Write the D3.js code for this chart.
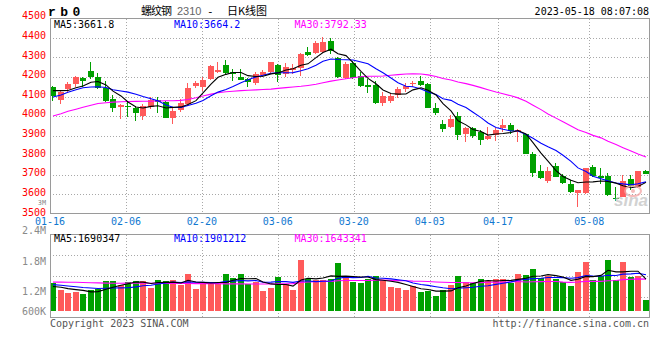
<!DOCTYPE html>
<html><head><meta charset="utf-8">
<script src="https://cdn.jsdelivr.net/npm/d3@7"></script>
<style>
html,body{margin:0;padding:0;background:#fff;}
svg{display:block;}
text{font-family:"DejaVu Sans Mono",monospace;font-size:10px;}
</style></head><body>
<svg id="c" width="660" height="360"></svg>
<script>
const dates = ["01-16","01-17","01-18","01-19","01-20","01-30","01-31","02-01","02-02","02-03",
"02-06","02-07","02-08","02-09","02-10","02-13","02-14","02-15","02-16","02-17",
"02-20","02-21","02-22","02-23","02-24","02-27","02-28","03-01","03-02","03-03",
"03-06","03-07","03-08","03-09","03-10","03-13","03-14","03-15","03-16","03-17",
"03-20","03-21","03-22","03-23","03-24","03-27","03-28","03-29","03-30","03-31",
"04-03","04-04","04-06","04-07","04-10","04-11","04-12","04-13","04-14","04-17",
"04-18","04-19","04-20","04-21","04-24","04-25","04-26","04-27","04-28","05-04",
"05-05","05-08","05-09","05-10","05-11","05-12","05-15","05-16","05-17","05-18"];
const open = [4150,4084,4137,4162,4196,4232,4202,4146,4088,4045,
4052,4040,4002,4048,4082,4074,3988,4031,4060,4153,
4148,4190,4224,4259,4228,4202,4190,4170,4208,4225,
4259,4213,4238,4244,4326,4324,4326,4383,4296,4197,
4272,4203,4161,4161,4067,4076,4110,4136,4166,4178,
4162,4043,3961,3944,3998,3906,3940,3918,3880,3905,
3940,3952,3918,3906,3807,3716,3667,3742,3691,3650,
3607,3605,3739,3694,3692,3580,3585,3679,3636,3716];
const high = [4152,4134,4176,4203,4198,4275,4218,4178,4108,4063,
4078,4050,4063,4100,4095,4076,4045,4088,4169,4180,
4200,4259,4279,4288,4243,4243,4196,4225,4238,4279,
4269,4272,4269,4322,4353,4385,4403,4401,4300,4279,
4284,4225,4192,4180,4121,4118,4148,4168,4180,4203,
4169,4068,3978,4004,4021,3944,3944,3930,3944,3939,
3983,3964,3935,3910,3816,3747,3739,3759,3704,3674,
3622,3733,3747,3733,3708,3636,3699,3699,3716,3721];
const low = [4077,4060,4125,4151,4149,4188,4136,4073,4023,3987,
3997,3973,3978,4036,4015,3988,3957,4022,4051,4145,
4128,4187,4220,4214,4182,4184,4148,4160,4198,4216,
4172,4199,4216,4203,4308,4320,4322,4317,4194,4191,
4189,4147,4117,4060,4049,4068,4090,4121,4149,4152,
4042,4007,3918,3940,3875,3867,3887,3850,3875,3870,
3918,3910,3867,3804,3687,3679,3658,3687,3653,3605,
3534,3602,3687,3653,3588,3564,3585,3622,3633,3701];
const close = [4105,4121,4166,4200,4178,4199,4143,4078,4040,4054,
4045,4014,4052,4082,4070,3988,4028,4065,4145,4168,
4187,4254,4238,4221,4216,4187,4173,4216,4228,4276,
4212,4249,4245,4320,4312,4372,4377,4332,4202,4266,
4194,4153,4148,4066,4105,4105,4136,4153,4171,4157,
4042,4015,3932,3986,3901,3939,3896,3879,3896,3927,
3952,3922,3930,3807,3708,3682,3716,3687,3657,3610,
3619,3733,3691,3682,3597,3576,3665,3640,3716,3701];
const ma5 = [4130,4130,4131,4145,4154,4172.8,4177.2,4159.6,4127.6,4102.8,
4072,4046.2,4041,4049.4,4052.6,4041.2,4044,4046.6,4059.2,4078.8,
4118.6,4163.8,4198.4,4213.6,4223.2,4223.2,4207,4202.6,4204,4216,
4221,4236.2,4242,4260.4,4267.6,4299.6,4325.2,4342.6,4319,4309.8,
4274.2,4229.4,4192.6,4165.4,4133.2,4115.4,4112,4113,4134,4144.4,
4131.8,4107.6,4063.4,4026.4,3975.2,3954.6,3930.8,3920.2,3902.2,3907.4,
3910,3915.2,3925.4,3907.6,3863.8,3809.8,3768.6,3720,3690,3670.4,
3657.8,3661.2,3662,3667,3664.4,3655.8,3642.2,3632,3638.8,3659.6];
const ma10 = [4097,4108,4122,4135,4145,4149,4150,4146,4135,4128.4,
4122.4,4111.7,4100.3,4088.5,4077.7,4056.6,4045.1,4043.8,4054.3,4065.7,
4079.9,4103.9,4122.5,4136.4,4151,4170.9,4185.4,4200.5,4208.8,4219.6,
4222.1,4221.6,4222.3,4232.2,4241.8,4260.3,4280.7,4292.3,4289.7,4288.7,
4286.9,4277.3,4267.6,4242.2,4221.5,4194.8,4170.7,4152.8,4149.7,4138.8,
4123.6,4109.8,4088.2,4080.2,4059.8,4043.2,4019.2,3991.8,3964.3,3941.3,
3932.3,3923,3922.8,3904.9,3885.6,3859.9,3841.9,3822.7,3798.8,3767.1,
3733.8,3714.9,3691,3678.5,3667.4,3656.8,3651.7,3647,3652.9,3662];
const ma30 = [4000,4012,4024,4035,4045,4055,4064,4068,4071,4073,
4074,4075,4076,4076,4077,4078,4078,4080,4085,4094,
4103,4112,4119,4124,4127,4130,4132,4134,4136,4137.9,
4141.5,4145.7,4148.4,4152.4,4156.8,4162.6,4170.4,4178.9,4184.3,4191.3,
4196.3,4200.9,4204.1,4203.6,4204.8,4208.7,4212.3,4215.2,4216.1,4215.7,
4210.9,4202.9,4192.7,4184.9,4174.4,4166.1,4156.9,4145.6,4134.6,4122.9,
4114.3,4103.4,4092.9,4075.8,4055.6,4032.6,4010.6,3989.1,3970.9,3949.1,
3929.9,3915.9,3900.7,3887.9,3870.9,3853.3,3837.6,3820.5,3805.3,3790.1];
// volume in units of 10,000
const volume = [147,109,95,100,88,109,114,156,156,137,
151,156,156,120,161,156,161,134,192,114,
147,146,146,192,172,192,140,152,104,120,
177,140,109,265,166,161,161,166,251,173,
152,147,166,182,156,125,120,109,130,99,
104,78,109,135,182,151,144,166,156,166,
166,146,192,187,218,172,182,166,151,130,
203,255,161,182,265,161,255,177,182,57];
const vma5 = [128,124,117,112,107.8,100.2,101.2,113.4,124.6,134.4,
142.8,151.2,151.2,144,148.8,149.8,150.8,146.4,160.8,151.4,
149.6,146.6,149,149,160.6,169.6,168.4,169.6,152,141.6,
138.6,138.6,130,162.2,171.4,168.2,172.4,183.8,181,182.4,
180.6,177.8,177.8,164,160.6,155.2,149.8,138.4,128,116.6,
112.4,104,104,105,121.6,131,144.2,155.6,159.8,156.6,
159.6,160,165.2,171.4,181.8,183,190.2,185,177.8,160.2,
166.4,181,180,186.2,213.2,204.8,204.8,208,208,166.4];
const vma10 = [138,135,131,127,123,120,118,119,120,121.1,
121.5,126.2,132.3,134.3,141.6,146.3,151,148.8,152.4,150.1,
149.7,148.7,147.7,154.9,156,159.6,157.5,159.3,150.5,151.1,
154.1,153.5,149.8,157.1,156.5,153.4,155.5,156.9,171.6,176.9,
174.4,175.1,180.8,172.5,171.5,167.9,163.8,158.1,146,138.6,
133.8,126.9,121.2,116.5,119.1,121.7,124.1,129.8,132.4,139.1,
145.3,152.1,160.4,165.6,169.2,171.3,175.1,175.1,174.6,171,
174.7,185.6,182.5,182,186.7,185.6,192.9,194,197.1,189.8];
const vma30 = [151,151,150,150,149,148,147,146,145,145,
146,146,145,145,145,144,144,144,144,143,
143,143,143,142,142,142,141,141,141,140.8,
141.8,142.8,143.3,148.8,151.4,153.1,154.7,155,158.2,159.4,
159.4,159.1,159.4,161.5,161.3,160.3,158.9,158.1,156,155.5,
154.1,151.8,150.6,148.7,149,147.7,147.8,148.3,150,151.5,
151.2,151.4,154.1,151.5,153.3,153.6,154.3,154.3,151,149.6,
151.3,154.9,154.7,154.7,158.3,159.5,164,166.3,168,166.6];
const priceTicks = [4500,4400,4300,4200,4100,4000,3900,3800,3700,3600,3500];
const dateTicks = ["01-16","02-06","02-20","03-06","03-20","04-03","04-17","05-08"];
const volTickValues = [300,240,180,120,60];
const volTickLabels = ["3M","2.4M","1.8M","1.2M","600K"];
const priceMaText = ["MA5:3661.8","MA10:3664.2","MA30:3792.33"];
const volMaText = ["MA5:1690347","MA10:1901212","MA30:1643341"];
const symbol = "rb0";
const titleName = "螺纹钢", titleCode = "2310", titleSuffix = "日K线图";
const stamp = "2023-05-18 08:07:08";

const svg = d3.select("#c");
const L = 50, R = 650, PT = 18.5, PB = 213.5, VT = 234.5, VB = 317.5, VBASE = 311;
const RED = "#ff5a5a", GREEN = "#00a000", GRID = "#a8a8a8", FRAME = "#9a9a9a";
const idx = d3.range(dates.length);
const x = d3.scaleBand().domain(idx).range([L, R]).paddingInner(0.2).paddingOuter(0.1).align(0);
const xt = d3.scaleLinear().domain([0, dates.length - 1]).range([L, R]);
const yP = d3.scaleLinear().domain([3500, 4500]).range([PB, PT]);
const yPLab = d3.scaleLinear().domain([3500, 4500]).range([215.5, 19.3]);
const yV = d3.scaleLinear().domain([0, 400]).range([VBASE, VT]);
const yVLab = d3.scaleLinear().domain([60, 300]).range([321.6, 200.3]);
const bx = i => Math.round(x(i));
const bw = Math.round(x.bandwidth());

// grids
const g = svg.append("g").attr("shape-rendering", "crispEdges");
g.selectAll(".hp").data(priceTicks.filter(t => t < 4500 && t > 3500)).join("line")
  .attr("x1", L).attr("x2", R).attr("y1", d => Math.round(yP(d)) + 0.5).attr("y2", d => Math.round(yP(d)) + 0.5)
  .attr("stroke", GRID).attr("stroke-dasharray", "1,2");
const tickIdx = dateTicks.map(d => dates.indexOf(d));
g.selectAll(".vp").data(tickIdx.filter(i => i > 0)).join("line")
  .attr("x1", d => Math.round(xt(d)) + 0.5).attr("x2", d => Math.round(xt(d)) + 0.5)
  .attr("y1", PT).attr("y2", PB).attr("stroke", GRID).attr("stroke-dasharray", "1,2");
g.selectAll(".vv").data(tickIdx.filter(i => i > 0)).join("line")
  .attr("x1", d => Math.round(xt(d)) + 0.5).attr("x2", d => Math.round(xt(d)) + 0.5)
  .attr("y1", VT).attr("y2", VB).attr("stroke", GRID).attr("stroke-dasharray", "1,2");
g.selectAll(".hv").data([1, 2, 3]).join("line")
  .attr("x1", L).attr("x2", R)
  .attr("y1", d => Math.round(VT + d * (VB - VT) / 4) + 0.5).attr("y2", d => Math.round(VT + d * (VB - VT) / 4) + 0.5)
  .attr("stroke", GRID).attr("stroke-dasharray", "1,2");

// candles
const cg = svg.append("g").attr("shape-rendering", "crispEdges");
cg.selectAll(".wick").data(idx).join("rect")
  .attr("x", i => bx(i) + 2).attr("width", 1)
  .attr("y", i => Math.round(yP(high[i]))).attr("height", i => Math.max(1, Math.round(yP(low[i])) - Math.round(yP(high[i]))))
  .attr("fill", i => close[i] >= open[i] ? RED : GREEN);
cg.selectAll(".body").data(idx).join("rect")
  .attr("x", i => bx(i)).attr("width", bw)
  .attr("y", i => Math.round(yP(Math.max(open[i], close[i]))))
  .attr("height", i => Math.max(1, Math.round(yP(Math.min(open[i], close[i]))) - Math.round(yP(Math.max(open[i], close[i])))))
  .attr("fill", i => close[i] >= open[i] ? RED : GREEN);

// volume bars
cg.selectAll(".vol").data(idx).join("rect")
  .attr("x", i => bx(i)).attr("width", bw)
  .attr("y", i => Math.round(yV(volume[i]))).attr("height", i => VBASE - Math.round(yV(volume[i])))
  .attr("fill", i => close[i] >= open[i] ? RED : GREEN);

// MA lines
const cx = i => bx(i) + bw / 2;
const lp = d3.line().x((d, i) => cx(i)).y(d => yP(d));
const lv = d3.line().x((d, i) => cx(i)).y(d => yV(d));
[[ma30, "#ff00ff"], [ma10, "#0000ff"], [ma5, "#000000"]].forEach(([s, c]) =>
  svg.append("path").attr("d", lp(s)).attr("fill", "none").attr("stroke", c).attr("stroke-width", 1.1));
[[vma30, "#ff00ff"], [vma10, "#0000ff"], [vma5, "#000000"]].forEach(([s, c]) =>
  svg.append("path").attr("d", lv(s)).attr("fill", "none").attr("stroke", c).attr("stroke-width", 1.1));

// watermark
const wm = svg.append("g").attr("opacity", 0.75);
wm.append("ellipse").attr("cx", 633).attr("cy", 191).attr("rx", 8).attr("ry", 5)
  .attr("fill", "none").attr("stroke", "#f3a3a3").attr("stroke-width", 2);
wm.append("circle").attr("cx", 633).attr("cy", 191).attr("r", 2).attr("fill", "#f3a3a3");
wm.append("text").attr("x", 648).attr("y", 206).attr("text-anchor", "end")
  .style("font-family", "Liberation Sans, Arial, sans-serif").style("font-size", "17px")
  .style("font-style", "italic").style("font-weight", "bold").attr("fill", "#c4c4c4").text("sina");

// frames
const fg = svg.append("g").attr("shape-rendering", "crispEdges").attr("fill", "none").attr("stroke", FRAME);
fg.append("rect").attr("x", L + 0.5).attr("y", PT).attr("width", R - L - 1).attr("height", PB - PT);
fg.append("rect").attr("x", L + 0.5).attr("y", VT).attr("width", R - L - 1).attr("height", VB - VT);

// price axis labels
svg.selectAll(".pl").data(priceTicks).join("text")
  .attr("x", 46).attr("y", d => yPLab(d)).attr("text-anchor", "end").attr("fill", "#ff0000").text(d => d);
// volume axis labels (the top "3M" label sits squeezed between the price labels, drawn smaller)
svg.selectAll(".vl").data(volTickValues).join("text")
  .attr("x", 46).attr("y", (d, i) => i === 0 ? 204.6 : Math.min(yVLab(d), 311) + 3.6)
  .attr("text-anchor", "end").attr("fill", "#8a8a8a")
  .style("font-size", (d, i) => i === 0 ? "6.8px" : null)
  .text((d, i) => volTickLabels[i]);
// date labels
svg.selectAll(".dl").data(tickIdx).join("text")
  .attr("x", d => xt(d)).attr("y", 225).attr("text-anchor", "middle").attr("fill", "#1178d0")
  .text((d, i) => dateTicks[i]);

// headers
const pmx = [54, 174, 294.5], cols = ["#000000", "#0000ff", "#ff00ff"];
svg.selectAll(".ph").data(priceMaText).join("text").attr("x", (d, i) => pmx[i]).attr("y", 27.5)
  .attr("fill", (d, i) => cols[i]).text(d => d);
svg.selectAll(".vh").data(volMaText).join("text").attr("x", (d, i) => pmx[i]).attr("y", 242)
  .attr("fill", (d, i) => cols[i]).text(d => d);

// title row
svg.append("text").attr("x", 48).attr("y", 16).style("font-family", "Liberation Mono, monospace")
  .style("font-size", "13px").style("font-weight", "bold").style("letter-spacing", "4.5px").attr("fill", "#000").text(symbol);
svg.append("text").attr("x", 141).attr("y", 15).style("font-family", "Noto Sans CJK SC").style("font-size", "11px")
  .style("letter-spacing", "-1px").attr("fill", "#000").text(titleName);
svg.append("text").attr("x", 177).attr("y", 15).style("font-family", "Liberation Sans, sans-serif").style("font-size", "11px")
  .attr("fill", "#666").text(titleCode);
svg.append("text").attr("x", 207).attr("y", 15).style("font-size", "11px").attr("fill", "#000").text("-");
svg.append("text").attr("x", 227).attr("y", 15).style("font-family", "Noto Sans CJK SC").style("font-size", "11px")
  .attr("fill", "#000").text(titleSuffix);
svg.append("text").attr("x", 649).attr("y", 15).attr("text-anchor", "end").attr("fill", "#000").text(stamp);

// footer
svg.append("text").attr("x", 50).attr("y", 327).attr("fill", "#555").text("Copyright 2023 SINA.COM");
svg.append("text").attr("x", 649).attr("y", 327).attr("text-anchor", "end").attr("fill", "#555").text("http://finance.sina.com.cn");
</script>
</body></html>
